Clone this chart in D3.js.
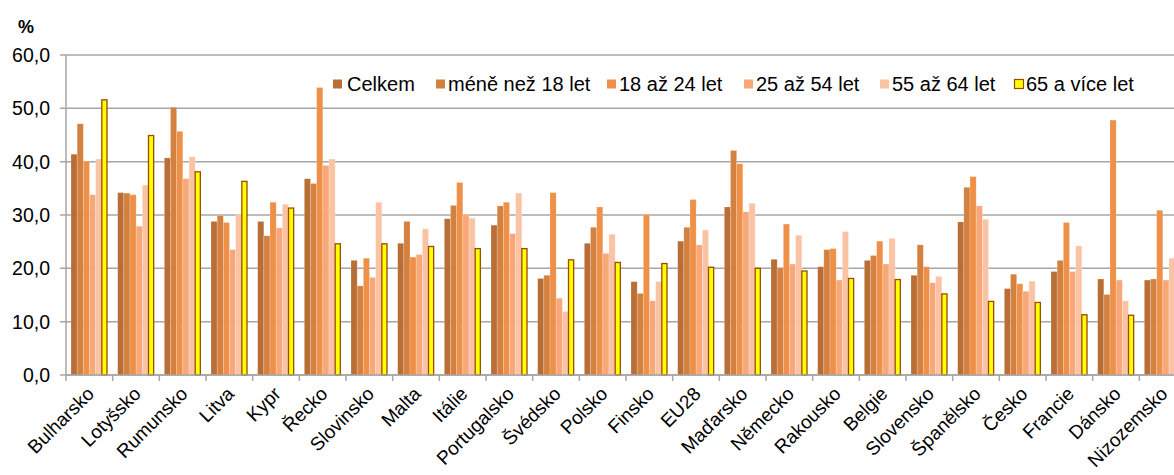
<!DOCTYPE html>
<html>
<head>
<meta charset="utf-8">
<script src="https://cdn.jsdelivr.net/npm/d3@7"></script>
<style>
  body { margin: 0; background: #fff; }
  svg { display: block; font-family: "Liberation Sans", Arial, sans-serif; }
</style>
</head>
<body>
<svg id="chart"></svg>
<script>
// data

var countries = ["Bulharsko", "Lotyšsko", "Rumunsko", "Litva", "Kypr", "Řecko", "Slovinsko", "Malta",
  "Itálie", "Portugalsko", "Švédsko", "Polsko", "Finsko", "EU28", "Maďarsko", "Německo", "Rakousko",
  "Belgie", "Slovensko", "Španělsko", "Česko", "Francie", "Dánsko", "Nizozemsko"];

var seriesNames = ["Celkem", "méně než 18 let", "18 až 24 let", "25 až 54 let", "55 až 64 let", "65 a více let"];

var celkem   = [41.4, 34.2, 40.7, 28.8, 28.8, 36.8, 21.5, 24.7, 29.3, 28.1, 18.1, 24.7, 17.5, 25.1, 31.5, 21.7, 20.3, 21.5, 18.7, 28.7, 16.2, 19.4, 18.0, 17.8];
var pod18    = [47.1, 34.1, 50.2, 29.9, 26.1, 35.9, 16.7, 28.8, 31.8, 31.7, 18.7, 27.7, 15.3, 27.7, 42.1, 20.1, 23.5, 22.4, 24.4, 35.2, 18.9, 21.5, 15.1, 18.0];
var let18_24 = [40.1, 33.8, 45.7, 28.6, 32.4, 53.9, 21.9, 22.1, 36.1, 32.4, 34.2, 31.5, 30.1, 32.9, 39.6, 28.3, 23.7, 25.1, 20.3, 37.2, 17.1, 28.6, 47.8, 30.9];
var let25_54 = [33.8, 27.9, 36.8, 23.5, 27.6, 39.3, 18.3, 22.6, 30.1, 26.5, 14.4, 22.8, 13.9, 24.4, 30.6, 20.8, 17.8, 20.8, 17.3, 31.7, 15.7, 19.4, 17.8, 17.8];
var let55_64 = [40.5, 35.6, 40.9, 30.1, 32.0, 40.5, 32.4, 27.4, 29.4, 34.1, 11.9, 26.4, 17.5, 27.2, 32.2, 26.2, 26.9, 25.6, 18.5, 29.2, 17.6, 24.2, 13.9, 21.9];
var nad65    = [51.6, 44.9, 38.1, 36.3, 31.3, 24.6, 24.6, 24.1, 23.7, 23.7, 21.6, 21.1, 20.9, 20.2, 20.0, 19.5, 18.1, 17.9, 15.2, 13.8, 13.6, 11.3, 11.2, 9.5];

var yTicks = [0, 10, 20, 30, 40, 50, 60];

var colors = ["#b86e34", "#d4803e", "#ee9048", "#f8a878", "#fac4a4", "#ffff00"];

var allSeries = [celkem, pod18, let18_24, let25_54, let55_64, nad65];

// layout

var width = 1174, height = 475;
var margin = { left: 66, top: 55 };
var plotW = 1120, plotH = 320;

var svg = d3.select("#chart").attr("width", width).attr("height", height);

var x0 = d3.scaleBand().domain(countries).range([margin.left, margin.left + plotW]).padding(0);
var x1 = d3.scaleBand().domain(d3.range(seriesNames.length)).range([5, 42]).padding(0);
var y = d3.scaleLinear().domain([0, 60]).range([margin.top + plotH, margin.top]);

// gridlines
svg.append("g")
  .selectAll("line")
  .data(yTicks)
  .enter()
  .append("line")
  .attr("x1", margin.left - 6)
  .attr("x2", width)
  .attr("y1", function(d){ return y(d); })
  .attr("y2", function(d){ return y(d); })
  .attr("stroke", "#a6a6a6")
  .attr("stroke-width", 1.5);

// y axis labels
svg.append("g")
  .selectAll("text")
  .data(yTicks)
  .enter()
  .append("text")
  .attr("x", 50)
  .attr("y", function(d){ return y(d) + 7; })
  .attr("text-anchor", "end")
  .style("font-size", "19.5px")
  .attr("fill", "#000")
  .text(function(d){ return d3.format(".1f")(d).replace(".", ","); });

svg.append("text")
  .attr("x", 18)
  .attr("y", 33)
  .style("font-size", "18px")
  .style("font-weight", "bold")
  .text("%");

// bars
var groups = svg.append("g")
  .selectAll("g")
  .data(countries)
  .enter()
  .append("g")
  .attr("transform", function(d){ return "translate(" + x0(d) + ",0)"; });

groups.selectAll("rect")
  .data(function(d, i){
    return allSeries.map(function(s, k){ return { k: k, v: s[i] }; });
  })
  .enter()
  .append("rect")
  .attr("x", function(d){ return x1(d.k); })
  .attr("y", function(d){ return y(d.v); })
  .attr("width", function(d){ return d.k == 5 ? x1.bandwidth() - 1 : x1.bandwidth(); })
  .attr("height", function(d){ return y(0) - y(d.v); })
  .attr("fill", function(d){ return colors[d.k]; })
  .attr("stroke", function(d){ return d.k == 5 ? "#9c4a00" : "#fff"; })
  .attr("stroke-opacity", function(d){ return d.k == 5 ? 1 : 0.35; })
  .attr("stroke-width", function(d){ return d.k == 5 ? 1.3 : 0.6; });

// x axis line and ticks
svg.append("line")
  .attr("x1", margin.left).attr("x2", width)
  .attr("y1", y(0)).attr("y2", y(0))
  .attr("stroke", "#a6a6a6").attr("stroke-width", 1.5);

svg.append("line")
  .attr("x1", margin.left).attr("x2", margin.left)
  .attr("y1", y(60)).attr("y2", y(0) + 6)
  .attr("stroke", "#a6a6a6").attr("stroke-width", 1.5);

svg.append("g")
  .selectAll("line")
  .data(countries)
  .enter()
  .append("line")
  .attr("x1", function(d){ return x0(d) + x0.bandwidth(); })
  .attr("x2", function(d){ return x0(d) + x0.bandwidth(); })
  .attr("y1", y(0))
  .attr("y2", y(0) + 6)
  .attr("stroke", "#a6a6a6")
  .attr("stroke-width", 1.5);

// category labels, rotated
svg.append("g")
  .selectAll("text")
  .data(countries)
  .enter()
  .append("text")
  .attr("text-anchor", "end")
  .style("font-size", "19px")
  .attr("transform", function(d){
    var cx = x0(d) + x0.bandwidth() / 2 + 6;
    return "translate(" + cx + "," + (y(0) + 20) + ") rotate(-45)";
  })
  .text(function(d){ return d; });

// legend
var legendX = [333, 436, 607, 744, 880, 1014];
var legend = svg.append("g")
  .selectAll("g")
  .data(seriesNames)
  .enter()
  .append("g")
  .attr("transform", function(d, i){ return "translate(" + legendX[i] + ",79)"; });

legend.append("rect")
  .attr("width", 9).attr("height", 9)
  .attr("x", function(d, i){ return i == 5 ? 0.5 : 0; })
  .attr("y", 0.5)
  .attr("fill", function(d, i){ return colors[i]; })
  .attr("stroke", function(d, i){ return i == 5 ? "#9c4a00" : "none"; })
  .attr("stroke-width", 1.2);

legend.append("text")
  .attr("x", function(d, i){ return i == 0 ? 14 : 12; })
  .attr("y", 12)
  .style("font-size", "20px")
  .text(function(d){ return d; });
</script>
</body>
</html>
